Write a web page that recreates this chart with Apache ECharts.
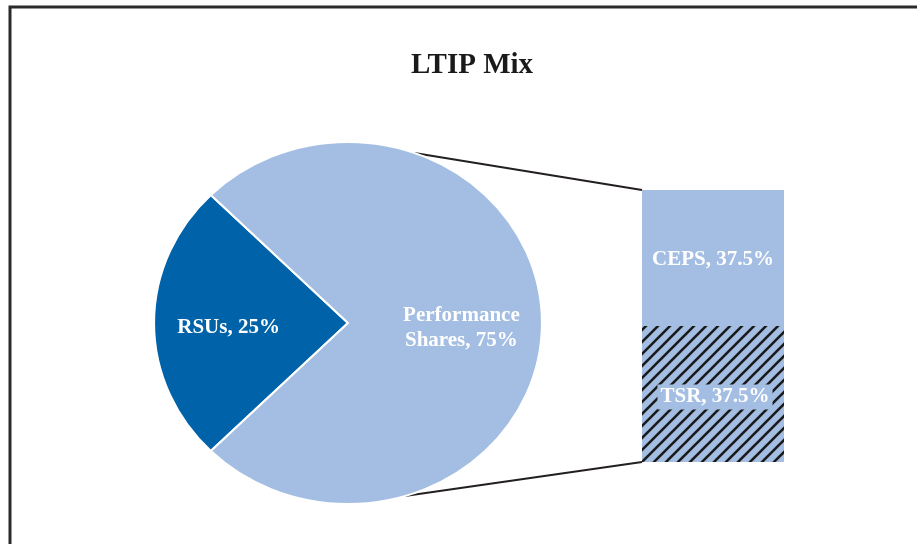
<!DOCTYPE html>
<html>
<head>
<meta charset="utf-8">
<title>LTIP Mix</title>
<script src="https://cdn.jsdelivr.net/npm/echarts@6/dist/echarts.min.js"></script>
<style>
  html, body { margin: 0; padding: 0; background: #fff; }
  #main { width: 917px; height: 544px; }
</style>
</head>
<body>
<div id="main"></div>
<script>
// pie data
const pieNames = ['RSUs', 'Performance\nShares']
const pieValues = [25, 75]
// bar (split of performance shares), bottom first
const barNames = ['TSR', 'CEPS']
const barValues = [37.5, 37.5]

const lightBlue = '#A3BEE2'
const darkBlue = '#0062A8'
const pieColors = [darkBlue, lightBlue]

// pie geometry (the reference pie is a bit wider than tall)
const cx = 348
const cy = 323
const rx = 194
const ry = 181
// bar grid
const gridLeft = 642
const gridTop = 190
const gridWidth = 142
const gridHeight = 272

// hatch pattern for TSR
function makeHatch () {
  const c = document.createElement('canvas')
  const s = 12
  c.width = s
  c.height = s
  const ctx = c.getContext('2d')
  ctx.fillStyle = lightBlue
  ctx.fillRect(0, 0, s, s)
  ctx.strokeStyle = '#1b1b1b'
  ctx.lineWidth = 2.6
  ctx.beginPath()
  ctx.moveTo(-2, s + 2); ctx.lineTo(s + 2, -2)
  ctx.moveTo(-2, 2); ctx.lineTo(2, -2)
  ctx.moveTo(s - 2, s + 2); ctx.lineTo(s + 2, s - 2)
  ctx.stroke()
  return c
}

const total = pieValues.reduce((a, b) => a + b, 0)
const startDeg = 135 // screen angle, clockwise from right

function renderSlice (params, api) {
  const i = params.dataIndex
  let before = 0
  for (let k = 0; k < i; k++) before += pieValues[k]
  const a0 = (startDeg + before / total * 360) * Math.PI / 180
  const a1 = (startDeg + (before + api.value(0)) / total * 360) * Math.PI / 180
  const mid = (a0 + a1) / 2
  return {
    type: 'group',
    children: [
      {
        type: 'sector',
        shape: { cx: cx, cy: cy, r: ry, startAngle: a0, endAngle: a1, clockwise: true },
        originX: cx,
        originY: cy,
        scaleX: rx / ry,
        style: { fill: pieColors[i], stroke: '#fff', lineWidth: 2, strokeNoScale: true }
      },
      {
        type: 'text',
        x: cx - 3 + 0.6 * rx * Math.cos(mid),
        y: cy + 0.6 * ry * Math.sin(mid) + 5,
        style: {
          text: pieNames[i] + ', ' + api.value(0) + '%',
          fill: '#fff',
          font: 'bold 21px "Liberation Serif"',
          align: 'center',
          verticalAlign: 'middle',
          lineHeight: 25
        }
      }
    ]
  }
}

const chart = echarts.init(document.getElementById('main'))

// connector lines from pie edge to the bar corners
function edgePoint (deg) {
  const a = deg * Math.PI / 180
  return [cx + rx * Math.cos(a), cy + ry * Math.sin(a)]
}
const upper = edgePoint(-70)
const lower = edgePoint(73)

const option = {
  animation: false,
  title: {
    text: 'LTIP Mix',
    left: 467,
    top: 46,
    textAlign: 'center',
    textStyle: {
      fontFamily: 'Liberation Serif',
      fontWeight: 'bold',
      fontSize: 29,
      color: '#1a1a1a'
    }
  },
  grid: {
    left: gridLeft,
    top: gridTop,
    width: gridWidth,
    height: gridHeight
  },
  xAxis: { type: 'category', data: ['Performance Shares'], show: false },
  yAxis: { type: 'value', min: 0, max: 75, show: false },
  series: [
    {
      type: 'custom',
      coordinateSystem: 'none',
      data: pieValues,
      renderItem: renderSlice,
      silent: true
    },
    {
      type: 'bar',
      name: barNames[0],
      stack: 'perf',
      barWidth: '100%',
      data: [barValues[0]],
      itemStyle: { color: { image: makeHatch(), repeat: 'repeat' } },
      label: {
        show: true,
        position: 'inside',
        offset: [2, 3],
        formatter: '{a}, {c}%',
        color: '#fff',
        fontFamily: 'Liberation Serif',
        fontWeight: 'bold',
        fontSize: 21,
        backgroundColor: lightBlue,
        padding: [2, 3]
      }
    },
    {
      type: 'bar',
      name: barNames[1],
      stack: 'perf',
      barWidth: '100%',
      data: [barValues[1]],
      itemStyle: { color: lightBlue },
      label: {
        show: true,
        position: 'inside',
        offset: [0, 2],
        formatter: '{a}, {c}%',
        color: '#fff',
        fontFamily: 'Liberation Serif',
        fontWeight: 'bold',
        fontSize: 21
      }
    }
  ],
  graphic: [
    { // frame, only left and top edges are inside the picture
      type: 'polyline',
      shape: { points: [[10, 600], [10, 7], [1000, 7]] },
      style: { stroke: '#2b2b2b', lineWidth: 3, fill: null }
    },
    {
      type: 'line',
      shape: { x1: upper[0], y1: upper[1], x2: gridLeft, y2: gridTop },
      style: { stroke: '#231f20', lineWidth: 2 }
    },
    {
      type: 'line',
      shape: { x1: lower[0], y1: lower[1], x2: gridLeft, y2: gridTop + gridHeight },
      style: { stroke: '#231f20', lineWidth: 2 }
    }
  ]
}
chart.setOption(option)
</script>
</body>
</html>
